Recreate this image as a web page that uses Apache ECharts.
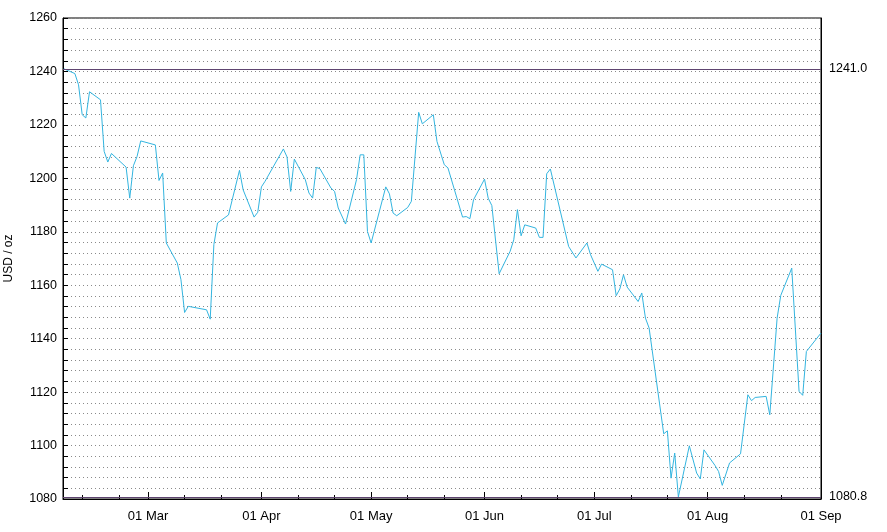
<!DOCTYPE html>
<html>
<head>
<meta charset="utf-8">
<script src="https://cdn.jsdelivr.net/npm/echarts@6/dist/echarts.min.js"></script>
<style>
  html, body { margin: 0; padding: 0; background: #fff; }
  #chart { width: 887px; height: 532px; }
</style>
</head>
<body>
<div id="chart"></div>
<script>
// gold price, USD / oz
const dates = [
  '2015-02-06', '2015-02-09', '2015-02-10', '2015-02-11', '2015-02-12', '2015-02-13',
  '2015-02-16', '2015-02-17', '2015-02-18', '2015-02-19', '2015-02-23', '2015-02-24',
  '2015-02-25', '2015-02-26', '2015-02-27', '2015-03-03', '2015-03-04', '2015-03-05',
  '2015-03-06', '2015-03-09', '2015-03-10', '2015-03-11', '2015-03-12', '2015-03-17',
  '2015-03-18', '2015-03-19', '2015-03-20', '2015-03-23', '2015-03-26', '2015-03-27',
  '2015-03-30', '2015-03-31', '2015-04-01', '2015-04-02', '2015-04-07', '2015-04-08',
  '2015-04-09', '2015-04-10', '2015-04-13', '2015-04-14', '2015-04-15', '2015-04-16',
  '2015-04-17', '2015-04-20', '2015-04-21', '2015-04-22', '2015-04-24', '2015-04-27',
  '2015-04-28', '2015-04-29', '2015-04-30', '2015-05-01', '2015-05-05', '2015-05-06',
  '2015-05-07', '2015-05-08', '2015-05-11', '2015-05-12', '2015-05-14', '2015-05-15',
  '2015-05-18', '2015-05-19', '2015-05-21', '2015-05-22', '2015-05-26', '2015-05-27',
  '2015-05-28', '2015-05-29', '2015-06-01', '2015-06-02', '2015-06-03', '2015-06-05',
  '2015-06-08', '2015-06-09', '2015-06-10', '2015-06-11', '2015-06-12', '2015-06-15',
  '2015-06-16', '2015-06-17', '2015-06-18', '2015-06-19', '2015-06-24', '2015-06-26',
  '2015-06-29', '2015-06-30', '2015-07-02', '2015-07-03', '2015-07-06', '2015-07-07',
  '2015-07-08', '2015-07-09', '2015-07-10', '2015-07-13', '2015-07-14', '2015-07-15',
  '2015-07-16', '2015-07-20', '2015-07-21', '2015-07-22', '2015-07-23', '2015-07-24',
  '2015-07-27', '2015-07-29', '2015-07-30', '2015-07-31', '2015-08-03', '2015-08-04',
  '2015-08-05', '2015-08-07', '2015-08-10', '2015-08-12', '2015-08-13', '2015-08-14',
  '2015-08-17', '2015-08-18', '2015-08-20', '2015-08-21', '2015-08-24', '2015-08-26',
  '2015-08-27', '2015-08-28', '2015-09-01'
]
const prices = [
  1241.0, 1239.2, 1235.0, 1223.8, 1222.6, 1232.4,
  1229.4, 1210.1, 1206.1, 1209.3, 1204.2, 1192.6,
  1204.7, 1208.2, 1214.0, 1212.5, 1199.2, 1202.0,
  1175.8, 1168.3, 1162.1, 1149.8, 1152.1, 1150.8,
  1147.3, 1175.2, 1183.3, 1186.3, 1203.0, 1195.7,
  1185.5, 1187.3, 1196.8, 1198.9, 1211.0, 1208.0,
  1195.1, 1207.2, 1199.5, 1194.5, 1192.6, 1204.1,
  1203.6, 1196.4, 1195.1, 1188.9, 1182.9, 1199.5,
  1208.8, 1208.8, 1180.1, 1175.8, 1196.8, 1194.2,
  1187.0, 1186.0, 1189.1, 1191.4, 1224.7, 1220.4,
  1223.8, 1213.8, 1205.1, 1203.9, 1185.5, 1185.7,
  1184.9, 1192.0, 1199.7, 1192.6, 1189.8, 1164.3,
  1172.7, 1177.0, 1188.3, 1178.5, 1182.6, 1181.4,
  1177.9, 1177.9, 1201.7, 1203.5, 1174.5, 1170.2,
  1175.8, 1171.4, 1165.2, 1167.9, 1165.8, 1156.1,
  1158.6, 1163.9, 1159.3, 1153.9, 1157.1, 1147.7,
  1144.0, 1104.4, 1105.5, 1087.8, 1097.2, 1080.8,
  1099.9, 1089.7, 1087.5, 1098.4, 1092.6, 1090.3,
  1085.1, 1093.5, 1096.9, 1119.0, 1116.8, 1118.0,
  1118.4, 1111.5, 1147.7, 1156.2, 1166.4, 1120.3,
  1118.8, 1135.2, 1142.1
]
const monthTicks = ['2015-03-01', '2015-04-01', '2015-05-01', '2015-06-01', '2015-07-01', '2015-08-01', '2015-09-01']
const minorTicks = [
  '2015-02-11', '2015-02-21', '2015-03-11', '2015-03-21', '2015-04-11', '2015-04-21',
  '2015-05-11', '2015-05-21', '2015-06-11', '2015-06-21', '2015-07-11', '2015-07-21',
  '2015-08-11', '2015-08-21'
]
const yLabels = [1080, 1100, 1120, 1140, 1160, 1180, 1200, 1220, 1240, 1260]
const monthNames = ['Jan', 'Feb', 'Mar', 'Apr', 'May', 'Jun', 'Jul', 'Aug', 'Sep', 'Oct', 'Nov', 'Dec']

function ts (s) {
  const p = s.split('-')
  return Date.UTC(+p[0], +p[1] - 1, +p[2])
}

function dayLabel (v) {
  const d = new Date(v)
  const dd = String(d.getUTCDate()).padStart(2, '0')
  return dd + ' ' + monthNames[d.getUTCMonth()]
}

const xMin = Date.UTC(2015, 1, 5, 18)
const xMax = ts('2015-09-01')
const startValue = prices[0]
const lowValue = Math.min(...prices)

const font = 'Liberation Sans, Arial, Helvetica, sans-serif'

const chart = echarts.init(document.getElementById('chart'))
const option = {
  backgroundColor: '#fff',
  animation: false,
  grid: {
    left: 63,
    right: 66,
    top: 18,
    bottom: 33,
    outerBoundsMode: 'none',
    containLabel: false,
    show: true,
    borderColor: '#000',
    borderWidth: 1,
    backgroundColor: 'transparent'
  },
  xAxis: [
    {
      type: 'value',
      min: xMin,
      max: xMax,
      position: 'bottom',
      axisLine: { show: true, lineStyle: { color: '#000', width: 1 } },
      axisTick: {
        show: true,
        inside: true,
        length: 7,
        customValues: monthTicks.map(ts),
        lineStyle: { color: '#000', width: 1 }
      },
      axisLabel: {
        customValues: monthTicks.map(ts),
        formatter: dayLabel,
        color: '#000',
        fontSize: 13,
        fontFamily: font,
        margin: 11
      },
      splitLine: { show: false }
    },
    {
      type: 'value',
      min: xMin,
      max: xMax,
      position: 'bottom',
      axisLine: { show: false },
      axisTick: {
        show: true,
        inside: true,
        length: 4,
        customValues: minorTicks.map(ts),
        lineStyle: { color: '#000', width: 1 }
      },
      axisLabel: { show: false },
      splitLine: { show: false }
    }
  ],
  yAxis: [
    {
      type: 'value',
      min: 1080,
      max: 1260,
      interval: 4,
      position: 'left',
      name: 'USD / oz',
      nameLocation: 'middle',
      nameGap: 48,
      nameTextStyle: { color: '#000', fontSize: 12, fontFamily: font },
      axisLine: { show: true, lineStyle: { color: '#000', width: 1 } },
      axisTick: { show: true, inside: true, length: 5, lineStyle: { color: '#000', width: 1 } },
      axisLabel: {
        customValues: yLabels,
        formatter: v => String(v),
        color: '#000',
        fontSize: 12.5,
        fontFamily: font,
        margin: 6
      },
      splitLine: {
        show: true,
        lineStyle: { color: '#8a8a8a', width: 1, type: [1, 3] }
      }
    },
    {
      type: 'value',
      min: 1080,
      max: 1260,
      position: 'right',
      axisLine: { show: true, lineStyle: { color: '#000', width: 1 } },
      axisTick: { show: false },
      axisLabel: {
        customValues: [startValue, lowValue],
        formatter: v => Number(v).toFixed(1),
        color: '#000',
        fontSize: 12.5,
        fontFamily: font,
        margin: 8
      },
      splitLine: { show: false }
    }
  ],
  series: [
    {
      type: 'line',
      xAxisIndex: 0,
      yAxisIndex: 0,
      data: dates.map((d, i) => [ts(d), prices[i]]),
      showSymbol: false,
      symbol: 'none',
      lineStyle: { color: '#33b5e0', width: 1 },
      z: 3,
      markLine: {
        silent: true,
        symbol: 'none',
        label: { show: false },
        lineStyle: { color: '#5e4470', width: 1, type: 'solid' },
        data: [{ yAxis: startValue }, { yAxis: lowValue }]
      }
    }
  ]
}
chart.setOption(option)
window.addEventListener('resize', () => chart.resize())
</script>
</body>
</html>
